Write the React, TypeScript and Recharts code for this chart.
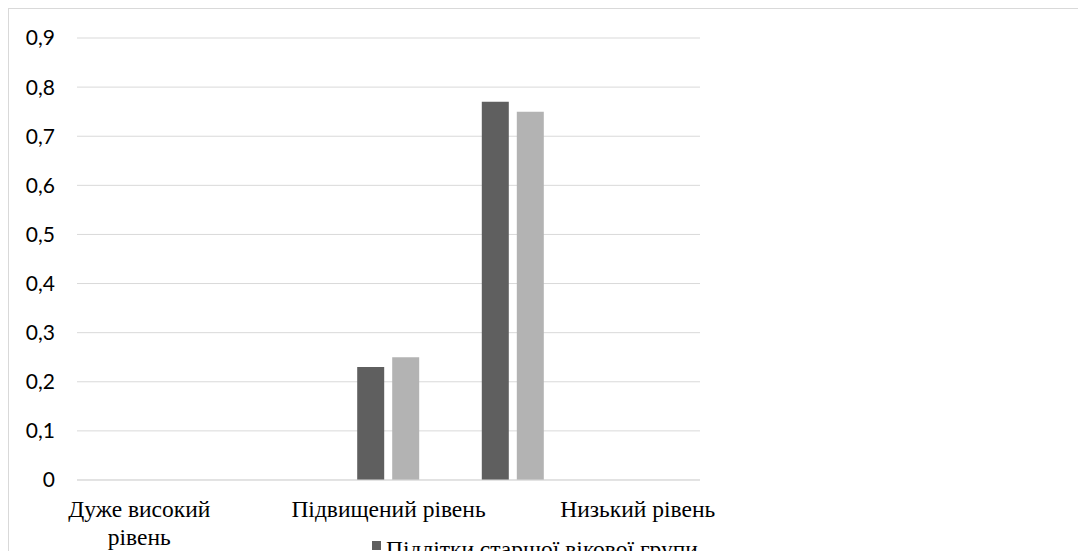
import React from 'react'
import { BarChart, Bar, XAxis, YAxis, CartesianGrid } from 'recharts'

// levels of the scale (labels of the 2nd and 4th are skipped on the axis, like Excel does)
const categories = ['Дуже високий рівень', 'Високий рівень', 'Підвищений рівень', 'Середній рівень', 'Низький рівень']
const tickLines: Record<string, string[]> = {
  'Дуже високий рівень': ['Дуже високий', 'рівень'],
}
const olderGroup = [0, 0, 0.23, 0.77, 0]
const youngerGroup = [0, 0, 0.25, 0.75, 0]
const yTicks = [0, 0.1, 0.2, 0.3, 0.4, 0.5, 0.6, 0.7, 0.8, 0.9]

const seriesNames = ['Підлітки старшої вікової групи', 'Підлітки молодшої вікової групи']
const DARK = '#5f5f5f'
const LIGHT = '#b3b3b3'
const GRID = '#d9d9d9'
const SERIF = 'Liberation Serif'
const SANS = 'Lato'

const data = categories.map((name, i) => ({ name, older: olderGroup[i], younger: youngerGroup[i] }))

function CategoryTick({ x, y, payload }: { x?: number; y?: number; payload?: { value: string } }) {
  const label = payload?.value ?? ''
  const lines = tickLines[label] ?? [label]
  return (
    <text x={x} y={y} textAnchor="middle" style={{ fontFamily: SERIF, fontSize: 23.5 }} fill="#000">
      {lines.map((l, i) => (
        <tspan key={i} x={x} dy={i === 0 ? 37 : 28}>{l}</tspan>
      ))}
    </text>
  )
}

export default function App() {
  return (
    <div style={{ position: 'relative', width: 1078, height: 550, marginBottom: -8, borderTop: `1px solid ${GRID}`, borderLeft: `1px solid ${GRID}`, overflow: 'hidden', background: '#fff' }}>
      <BarChart width={1077} height={549} data={data} margin={{ top: 29, right: 386, bottom: 0, left: 0 }} barSize={27} barGap={8}>
        <CartesianGrid stroke={GRID} vertical={false} />
        <XAxis dataKey="name" height={78} interval={1} tickSize={0} tickMargin={0} axisLine={{ stroke: GRID }} tickLine={false} tick={<CategoryTick />} />
        <YAxis width={68} domain={[0, 0.9]} ticks={yTicks} axisLine={false} tickLine={false} tickSize={0} tickMargin={22}
          tick={{ fill: '#000', fontSize: 21, fontFamily: SANS }}
          tickFormatter={(v: number) => String(v).replace('.', ',')} />
        <Bar dataKey="older" name={seriesNames[0]} fill={DARK} isAnimationActive={false} />
        <Bar dataKey="younger" name={seriesNames[1]} fill={LIGHT} isAnimationActive={false} />
      </BarChart>
      <div style={{ position: 'absolute', left: 363, top: 528, fontFamily: SERIF, fontSize: 23.5, lineHeight: '24px', color: '#000', display: 'flex', alignItems: 'flex-start', whiteSpace: 'nowrap' }}>
        <span style={{ display: 'inline-block', width: 9, height: 9, marginTop: 4, background: DARK, marginRight: 5 }} />
        {seriesNames[0]}
      </div>
    </div>
  )
}
